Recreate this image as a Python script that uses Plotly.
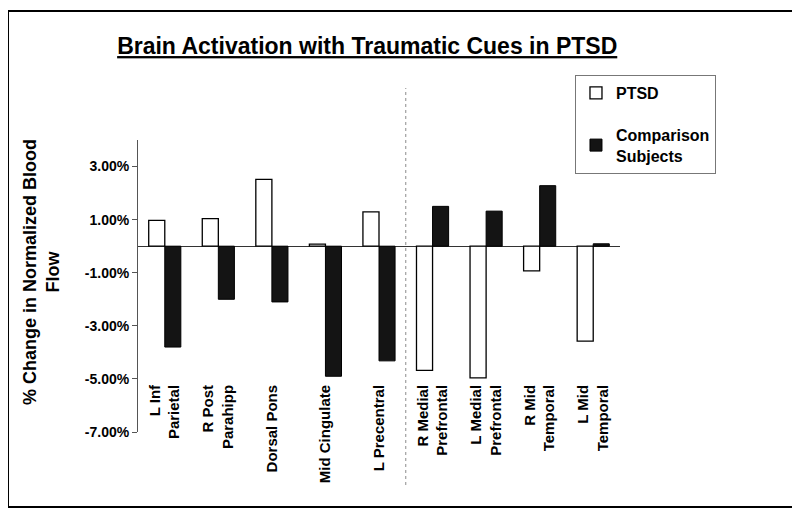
import plotly.graph_objects as go

categories = ["L Inf<br>Parietal", "R Post<br>Parahipp", "Dorsal Pons", "Mid Cingulate",
              "L Precentral", "R Medial<br>Prefrontal", "L Medial<br>Prefrontal",
              "R Mid<br>Temporal", "L Mid<br>Temporal"]
ptsd = [0.97, 1.04, 2.52, 0.08, 1.29, -4.68, -4.96, -0.93, -3.58]
comparison = [-3.80, -2.00, -2.10, -4.90, -4.32, 1.50, 1.32, 2.28, 0.09]
ytick_vals = [-7, -5, -3, -1, 1, 3]
ytick_text = ["-7.00%", "-5.00%", "-3.00%", "-1.00%", "1.00%", "3.00%"]

FONT = "Liberation Sans, Arial, sans-serif"

fig = go.Figure()
fig.add_trace(go.Bar(
    x=categories, y=ptsd, name="PTSD", legendgroup="a",
    marker=dict(color="white", line=dict(color="black", width=1.3)),
))
fig.add_trace(go.Bar(
    x=categories, y=comparison, name="Comparison<br>Subjects", legendgroup="b",
    marker=dict(color="#141414", line=dict(color="black", width=1)),
))

# frame around the chart
fig.add_shape(type="rect", xref="paper", yref="paper",
              x0=-0.2697, x1=1.361, y0=-0.2568, y1=1.4418,
              line=dict(color="black", width=2), fillcolor="rgba(0,0,0,0)")
# dotted separator between the two groups of regions
fig.add_shape(type="line", xref="x", yref="paper",
              x0=4.5, x1=4.5, y0=-0.1815, y1=1.178,
              line=dict(color="#8a8a8a", width=1, dash="dot"))

fig.add_annotation(
    text="<b>% Change in Normalized Blood<br>Flow</b>",
    xref="paper", yref="paper", x=-0.199, y=0.548,
    textangle=-90, showarrow=False, xanchor="center", yanchor="middle",
    font=dict(family=FONT, size=18, color="black"),
)

fig.update_layout(
    width=800, height=517,
    margin=dict(l=130, r=188, t=132, b=93),
    paper_bgcolor="white", plot_bgcolor="white",
    barmode="group", bargap=0.4, bargroupgap=0,
    title=dict(
        text="<b><u>Brain Activation with Traumatic Cues in PTSD</u></b>",
        x=0.449, xref="container", xanchor="center",
        y=0.9265, yref="container", yanchor="middle",
        font=dict(family=FONT, size=23, color="black"),
    ),
    legend=dict(
        x=0.9066, y=1.2226, xanchor="left", yanchor="top",
        bgcolor="white", bordercolor="#777", borderwidth=1,
        font=dict(family=FONT, size=16, color="black", weight="bold"),
        tracegroupgap=18, itemwidth=30,
    ),
    xaxis=dict(
        type="category",
        anchor="free", position=0.175,
        showline=False, showgrid=False, ticks="",
        tickangle=-90,
        tickfont=dict(family=FONT, size=15, color="black", weight="bold"),
    ),
    yaxis=dict(
        range=[-7, 4],
        tickvals=ytick_vals, ticktext=ytick_text,
        showgrid=False,
        showline=True, linecolor="#555", linewidth=1,
        ticks="outside", ticklen=5, tickcolor="#555",
        zeroline=True, zerolinecolor="#333", zerolinewidth=1,
        tickfont=dict(family=FONT, size=14, color="black", weight="bold"),
    ),
)

fig.write_html("out.html")
